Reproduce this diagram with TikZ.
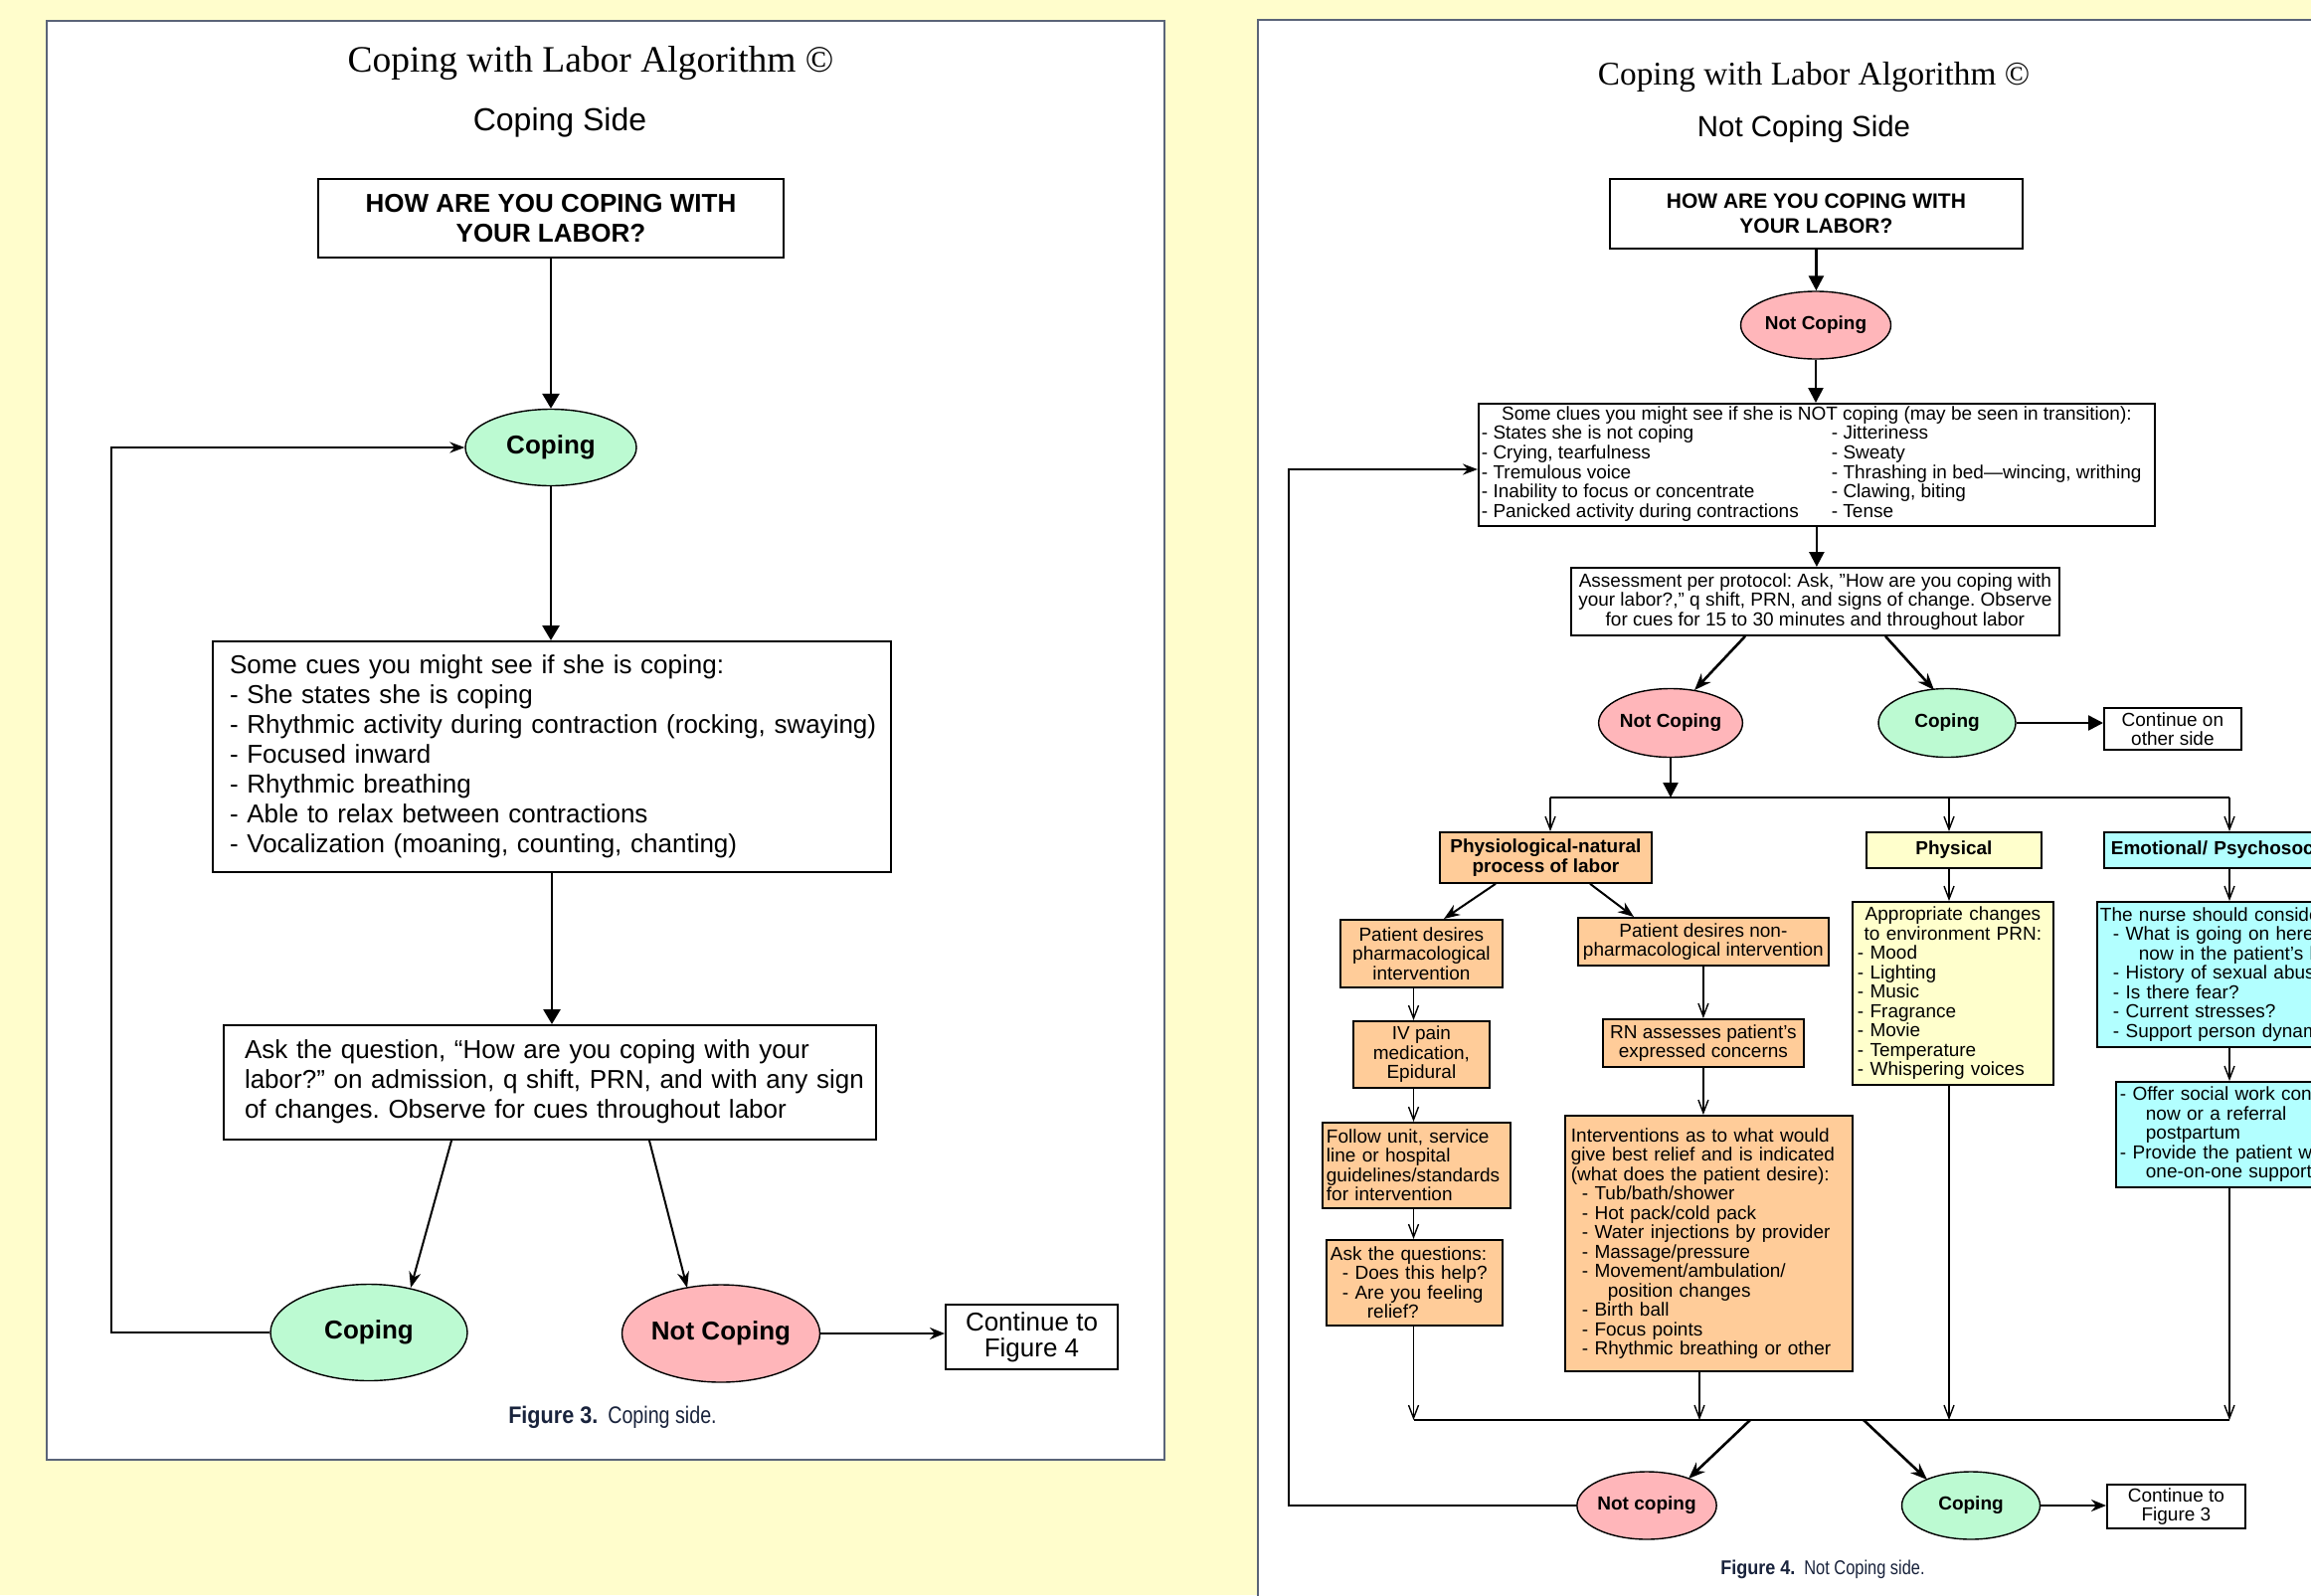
\documentclass[tikz,border=0pt]{standalone}
\usepackage{fontspec}
\setmainfont{Liberation Sans}
\newfontfamily\titlefont{Liberation Serif}
\newfontfamily\capfont[FakeStretch=0.82]{Liberation Sans}
\newfontfamily\capfontb[FakeStretch=0.9]{Liberation Sans}
\usetikzlibrary{arrows.meta,calc,shapes.geometric}
\newcommand\fsz[2]{\fontsize{#1pt}{#2pt}\selectfont}
\definecolor{bgyellow}{RGB}{255,253,204}
\definecolor{panelline}{RGB}{90,100,120}
\definecolor{mint}{RGB}{188,250,210}
\definecolor{rose}{RGB}{255,182,186}
\definecolor{peach}{RGB}{255,204,153}
\definecolor{cream}{RGB}{255,255,204}
\definecolor{aqua}{RGB}{178,255,255}
\definecolor{captxt}{RGB}{25,35,60}
\begin{document}
\frenchspacing
\hyphenpenalty=10000
\exhyphenpenalty=10000
\begin{tikzpicture}[x=1pt,y=-1pt,
  box/.style={draw=black, line width=1.8pt, inner ysep=0pt, anchor=north west},
  bigbox/.style={box, line width=2pt, font=\fsz{26}{30}},
  smallbox/.style={box, font=\fsz{19}{19.5}},
  oval/.style={ellipse, draw=black, line width=1.4pt, inner sep=0pt},
  tharrow/.style={line width=2.8pt, -{Triangle[length=15pt,width=17pt]}},
  tharrowR/.style={line width=2.5pt, -{Triangle[length=15pt,width=15pt]}},
  diagL/.style={line width=2pt, -{Stealth[length=16pt,width=12pt]}},
  diagR/.style={line width=2.6pt, -{Stealth[length=17pt,width=13pt]}},
  midarrow/.style={line width=2pt, -{Stealth[length=15pt,width=12pt]}},
  fbarrow/.style={line width=1.6pt, -{Stealth[length=15pt,width=11pt]}},
  thinarrow/.style={line width=1.4pt, -{Straight Barb[length=13pt,width=10pt]}},
  busline/.style={line width=2pt}
]
\useasboundingbox (0,0) rectangle (2324,1604);
\clip (0,0) rectangle (2324,1604);
\fill[bgyellow] (0,0) rectangle (2324,1604);
\draw[panelline, line width=2.5pt, fill=white] (47,21) rectangle (1171,1468);
\draw[panelline, line width=2.5pt, fill=white] (1265,20) rectangle (2400,1700);

%================ LEFT PANEL =================
\node[font=\titlefont\fsz{37.5}{40}] (titleL) at (594,64) {Coping with Labor Algorithm ©};
\node[font=\fsz{32}{36}] (subL) at (563,123) {Coping Side};
\node[bigbox, minimum width=468pt, minimum height=79pt, align=center, inner xsep=0pt, font=\bfseries\fsz{26}{30}] (qL) at (319,179) {HOW ARE YOU COPING WITH\\YOUR LABOR?};
\node[oval, fill=mint, minimum width=172pt, minimum height=77pt, font=\bfseries\fsz{26}{30}] (copL) at (554,450) {Coping};
\node[bigbox, text width=648pt, inner xsep=17pt, minimum height=232pt, align=left] (cuesL) at (213,644)
 {\begin{tabular}{@{}l@{}}
  Some cues you might see if she is coping:\\
  - She states she is coping\\
  - Rhythmic activity during contraction (rocking, swaying)\\
  - Focused inward\\
  - Rhythmic breathing\\
  - Able to relax between contractions\\
  - Vocalization (moaning, counting, chanting)
  \end{tabular}};
\node[bigbox, text width=614pt, inner xsep=21pt, minimum height=115pt, align=left] (askL) at (224,1030)
 {\begin{tabular}{@{}l@{}}
  Ask the question, “How are you coping with your\\
  labor?” on admission, q shift, PRN, and with any sign\\
  of changes. Observe for cues throughout labor
  \end{tabular}};
\node[oval, fill=mint, minimum width=198pt, minimum height=97pt, font=\bfseries\fsz{26}{30}] (cop2L) at (371,1340) {Coping};
\node[oval, fill=rose, minimum width=199pt, minimum height=98pt, font=\bfseries\fsz{26}{30}] (nc2L) at (725,1341) {Not Coping};
\node[bigbox, minimum width=173pt, minimum height=65pt, align=center, inner xsep=0pt, font=\fsz{26}{26}] (contL) at (950,1311) {Continue to\\Figure 4};
\node[text=captxt] (capL) at (616,1425) {{\capfontb\bfseries\fsz{24}{28}Figure 3.}\hspace{10pt}{\capfont\fsz{24}{28}Coping side.}};

\draw[tharrow] (qL.south) -- (qL.south |- copL.north);
\draw[tharrow] (copL.south) -- (copL.south |- cuesL.north);
\draw[tharrow] (cuesL.south) -- (cuesL.south |- askL.north);
\draw[diagL] ($(askL.south west)+(230,0)$) -- ($(cop2L.center)+(42,-45)$);
\draw[diagL] ($(askL.south west)+(429,0)$) -- ($(nc2L.center)+(-34,-46)$);
\draw[midarrow] (nc2L.east) -- (nc2L.east -| contL.west);
\coordinate (fbL) at (112,450);
\draw[fbarrow] (cop2L.west) -| (fbL) -- (copL.west);

%================ RIGHT PANEL =================
\node[font=\titlefont\fsz{33.3}{36}] (titleR) at (1824,78) {Coping with Labor Algorithm ©};
\node[font=\fsz{29.4}{33}] (subR) at (1814,130) {Not Coping Side};
\node[box, minimum width=415pt, minimum height=70pt, align=center, inner xsep=0pt, font=\bfseries\fsz{21}{25}] (qR) at (1618,179) {HOW ARE YOU COPING WITH\\YOUR LABOR?};
\node[oval, fill=rose, minimum width=151pt, minimum height=68pt, font=\bfseries\fsz{19}{22}] (ncR) at (1826,327) {Not Coping};
\node[smallbox, inner xsep=3pt, minimum height=123pt] (cluesR) at (1486,405)
 {\renewcommand\arraystretch{1}\setlength\tabcolsep{0pt}%
  \begin{tabular}{p{352pt}p{322pt}}
  \multicolumn{2}{c}{Some clues you might see if she is NOT coping (may be seen in transition):}\\
  - States she is not coping & - Jitteriness\\
  - Crying, tearfulness & - Sweaty\\
  - Tremulous voice & - Thrashing in bed—wincing, writhing\\
  - Inability to focus or concentrate & - Clawing, biting\\
  - Panicked activity during contractions & - Tense
  \end{tabular}};
\node[smallbox, minimum width=491pt, minimum height=68pt, align=center, inner xsep=0pt] (assR) at (1579,570)
 {Assessment per protocol: Ask, "How are you coping with\\
  your labor?," q shift, PRN, and signs of change. Observe\\
  for cues for 15 to 30 minutes and throughout labor};
\node[oval, fill=rose, minimum width=139pt, minimum height=69pt, font=\bfseries\fsz{19}{22}] (nc2R) at (1680,727) {Not Coping};
\node[oval, fill=mint, minimum width=138pt, minimum height=69pt, font=\bfseries\fsz{19}{22}] (cop2R) at (1958,727) {Coping};
\node[smallbox, minimum width=138pt, minimum height=42pt, align=center, inner xsep=0pt, font=\fsz{19}{19}] (cont1R) at (2115,711) {Continue on\\other side};

\coordinate (bus1w) at (1559,802);
\coordinate (bus1e) at (2242,802);
\coordinate (cPhys) at (1960,802);

\node[smallbox, fill=peach, minimum width=213pt, minimum height=51pt, align=center, inner xsep=0pt, font=\bfseries\fsz{19}{19.5}] (physioR) at (1447,836) {Physiological-natural\\process of labor};
\node[smallbox, fill=cream, minimum width=176pt, minimum height=36pt, inner xsep=0pt, font=\bfseries\fsz{19}{19.5}] (physR) at (1876,836) {Physical};
\node[smallbox, fill=aqua, text width=247pt, inner xsep=7pt, minimum height=36pt, align=left, font=\bfseries\fsz{19}{19.5}] (emoR) at (2115,836) {Emotional/ Psychosocial};

\node[smallbox, fill=cream, text width=192pt, inner xsep=5pt, minimum height=184pt, align=left] (apprR) at (1862,906)
 {\makebox[192pt][c]{Appropriate changes}\\
  \makebox[192pt][c]{to environment PRN:}\\
  - Mood\\- Lighting\\- Music\\- Fragrance\\- Movie\\- Temperature\\- Whispering voices};
\node[smallbox, fill=aqua, text width=300pt, inner xsep=3pt, minimum height=146pt, align=left] (nurseR) at (2108,906)
 {The nurse should consider:\\
  \hspace*{13pt}- What is going on here\\
  \hspace*{39pt}now in the patient's life?\\
  \hspace*{13pt}- History of sexual abuse?\\
  \hspace*{13pt}- Is there fear?\\
  \hspace*{13pt}- Current stresses?\\
  \hspace*{13pt}- Support person dynamics};
\node[smallbox, fill=aqua, text width=300pt, inner xsep=4pt, minimum height=106pt, align=left] (offerR) at (2127,1087)
 {- Offer social work consult\\
  \hspace*{26pt}now or a referral\\
  \hspace*{26pt}postpartum\\
  - Provide the patient with\\
  \hspace*{26pt}one-on-one support};

\node[smallbox, fill=peach, minimum width=163pt, minimum height=68pt, align=center, inner xsep=0pt] (pharmR) at (1347,924) {Patient desires\\pharmacological\\intervention};
\node[smallbox, fill=peach, minimum width=252pt, minimum height=48pt, align=center, inner xsep=0pt] (nonpR) at (1586,922) {Patient desires non-\\pharmacological intervention};
\node[smallbox, fill=peach, minimum width=137pt, minimum height=67pt, align=center, inner xsep=0pt] (ivR) at (1360,1026) {IV pain\\medication,\\Epidural};
\node[smallbox, fill=peach, text width=181pt, inner xsep=4pt, minimum height=86pt, align=left] (follR) at (1329,1128) {Follow unit, service\\line or hospital\\guidelines/standards\\for intervention};
\node[smallbox, fill=peach, text width=169pt, inner xsep=4pt, minimum height=86pt, align=left] (askR) at (1333,1246) {Ask the questions:\\\hspace*{12pt}- Does this help?\\\hspace*{12pt}- Are you feeling\\\hspace*{37pt}relief?};
\node[smallbox, fill=peach, minimum width=202pt, minimum height=48pt, align=center, inner xsep=0pt] (rnR) at (1611,1024) {RN assesses patient's\\expressed concerns};
\node[smallbox, fill=peach, text width=277pt, inner xsep=6pt, minimum height=257pt, align=left] (intR) at (1573,1121)
 {Interventions as to what would\\
  give best relief and is indicated\\
  (what does the patient desire):\\
  \hspace*{11pt}- Tub/bath/shower\\
  \hspace*{11pt}- Hot pack/cold pack\\
  \hspace*{11pt}- Water injections by provider\\
  \hspace*{11pt}- Massage/pressure\\
  \hspace*{11pt}- Movement/ambulation/\\
  \hspace*{37pt}position changes\\
  \hspace*{11pt}- Birth ball\\
  \hspace*{11pt}- Focus points\\
  \hspace*{11pt}- Rhythmic breathing or other};

\coordinate (bus2w) at (1421.5,1428);
\coordinate (bus2e) at (2242,1428);
\coordinate (cInt) at (1709,1428);

\node[oval, fill=rose, minimum width=139pt, minimum height=68pt, font=\bfseries\fsz{19}{22}] (ncbR) at (1656,1514) {Not coping};
\node[oval, fill=mint, minimum width=139pt, minimum height=68pt, font=\bfseries\fsz{19}{22}] (cpbR) at (1982,1514) {Coping};
\node[smallbox, minimum width=139pt, minimum height=44pt, align=center, inner xsep=0pt, font=\fsz{19}{19}] (cont2R) at (2118,1492) {Continue to\\Figure 3};
\node[text=captxt] (capR) at (1833,1578) {{\capfontb\bfseries\fsz{20}{24}Figure 4.}\hspace{9pt}{\capfont\fsz{20}{24}Not Coping side.}};

% connectors right
\draw[tharrowR] (qR.south) -- (qR.south |- ncR.north);
\draw[tharrowR] (ncR.south) -- (ncR.south |- cluesR.north);
\draw[tharrowR] (cluesR.south) -- (cluesR.south |- assR.north);
\draw[diagR] ($(assR.south west)+(176,0)$) -- ($(nc2R.center)+(24,-33)$);
\draw[diagR] ($(assR.south west)+(317,0)$) -- ($(cop2R.center)+(-13,-33)$);
\draw[tharrowR] (cop2R.east) -- (cop2R.east -| cont1R.west);
\draw[tharrowR] (nc2R.south) -- (nc2R.south |- bus1w);
\draw[busline] (bus1w) -- (bus1e);
\draw[thinarrow] (bus1w) -- (bus1w |- physioR.north);
\draw[thinarrow] (cPhys) -- (cPhys |- physR.north);
\draw[thinarrow] (bus1e) -- (bus1e |- emoR.north);
\draw[diagL] ($(physioR.south west)+(57,0)$) -- ($(pharmR.north west)+(105,0)$);
\draw[diagL] ($(physioR.south west)+(152,0)$) -- ($(nonpR.north west)+(57,0)$);
\draw[thinarrow] (pharmR.south -| bus2w) -- (ivR.north -| bus2w);
\draw[thinarrow] (ivR.south -| bus2w) -- (follR.north -| bus2w);
\draw[thinarrow] (follR.south -| bus2w) -- (askR.north -| bus2w);
\draw[thinarrow] (askR.south -| bus2w) -- (bus2w);
\draw[thinarrow] (nonpR.south) -- (nonpR.south |- rnR.north);
\draw[thinarrow] (rnR.south) -- (rnR.south |- intR.north);
\draw[thinarrow] (cInt |- intR.south) -- (cInt);
\draw[thinarrow] (cPhys |- physR.south) -- (cPhys |- apprR.north);
\draw[thinarrow] (cPhys |- apprR.south) -- (cPhys |- bus2w);
\draw[thinarrow] (bus1e |- emoR.south) -- (bus1e |- nurseR.north);
\draw[thinarrow] (bus1e |- nurseR.south) -- (bus1e |- offerR.north);
\draw[thinarrow] (bus1e |- offerR.south) -- (bus2e);
\draw[line width=2.5pt] (bus2w) -- (bus2e);
\draw[diagR] ($(bus2w)+(338.5,0)$) -- ($(ncbR.center)+(42,-27)$);
\draw[diagR] ($(bus2w)+(452.5,0)$) -- ($(cpbR.center)+(-44,-26)$);
\draw[midarrow] (cpbR.east) -- (cpbR.east -| cont2R.west);
\coordinate (fbR) at (1296,472);
\draw[fbarrow] (ncbR.west) -| (fbR) -- (cluesR.west |- fbR);
\end{tikzpicture}
\end{document}
